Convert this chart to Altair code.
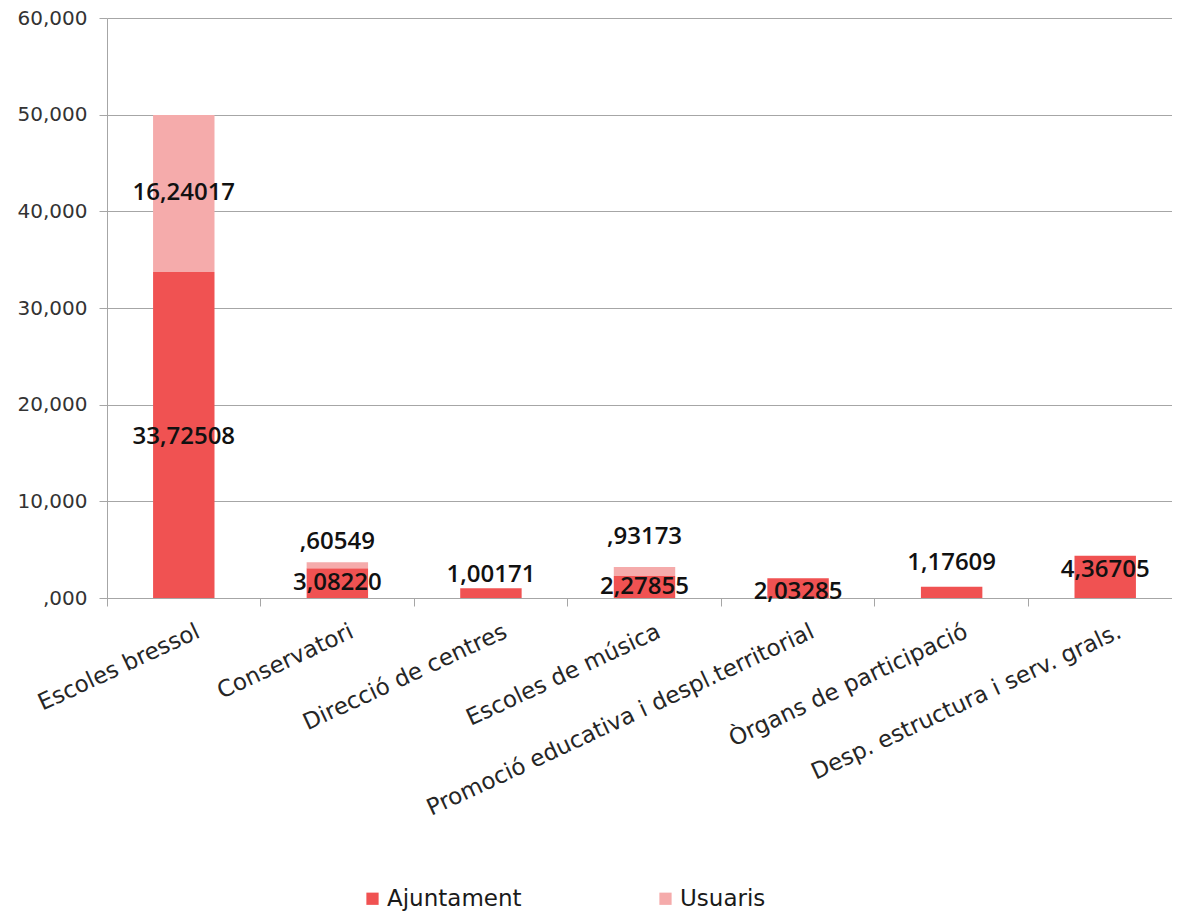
import altair as alt
import pandas as pd

categories = [
    "Escoles bressol",
    "Conservatori",
    "Direcció de centres",
    "Escoles de música",
    "Promoció educativa i despl.territorial",
    "Òrgans de participació",
    "Desp. estructura i serv. grals.",
]
series = ["Ajuntament", "Usuaris"]
ajuntament = [33725.08, 3082.20, 1001.71, 2278.55, 2032.85, 1176.09, 4367.05]
usuaris = [16240.17, 605.49, None, 931.73, None, None, None]
y_ticks = [0, 10000, 20000, 30000, 40000, 50000, 60000]

# pixel nudges of the data labels (style, mimicking the original label placement)
label_dy_ajuntament = [2, 0, -18, 0, 4, -29, -7]
label_dy_usuaris = [0, -23, 0, -34, 0, 0, 0]

colors = ["#F05252", "#F5ABAB"]


def fmt_label(v):
    s = str(int(round(v * 100)))
    return s[:-5] + "," + s[-5:]


rows = []
for i, c in enumerate(categories):
    rows.append({"category": c, "series": "Ajuntament", "value": ajuntament[i],
                 "order": 0, "dy": label_dy_ajuntament[i], "label": fmt_label(ajuntament[i])})
    if usuaris[i] is not None:
        rows.append({"category": c, "series": "Usuaris", "value": usuaris[i],
                     "order": 1, "dy": label_dy_usuaris[i], "label": fmt_label(usuaris[i])})
df = pd.DataFrame(rows)

W, H = 1075, 580
YMAX = 60000

x_enc = alt.X(
    "category:N",
    sort=categories,
    title=None,
    scale=alt.Scale(paddingInner=0, paddingOuter=0),
    axis=alt.Axis(
        bandPosition=0,
        labelOffset=10,
        labelAngle=-25,
        labelAlign="right",
        labelBaseline="top",
        labelFont="DejaVu Sans",
        labelFontSize=23,
        labelColor="#262626",
        labelPadding=14,
        labelLimit=700,
        domainColor="#A6A6A6",
        tickColor="#A6A6A6",
        tickSize=8,
        grid=False,
    ),
)

y_enc = alt.Y(
    "value:Q",
    stack="zero",
    title=None,
    scale=alt.Scale(domain=[0, YMAX], nice=False),
    axis=alt.Axis(
        values=y_ticks,
        labelExpr="datum.value == 0 ? ',000' : format(datum.value, ',')",
        labelFont="DejaVu Sans",
        labelFontSize=20,
        labelColor="#333333",
        labelPadding=12,
        domainColor="#A6A6A6",
        tickColor="#A6A6A6",
        tickSize=8,
        gridColor="#A6A6A6",
        gridWidth=1,
    ),
)

base = alt.Chart(df)

bars = base.mark_bar(width=alt.RelativeBandSize(0.4)).encode(
    x=x_enc,
    y=y_enc,
    color=alt.Color(
        "series:N",
        scale=alt.Scale(domain=series, range=colors),
        legend=alt.Legend(
            title=None,
            orient="none",
            legendX=254,
            legendY=869,
            direction="horizontal",
            symbolType="square",
            symbolSize=150,
            symbolStrokeWidth=0,
            labelFont="DejaVu Sans",
            labelFontSize=23,
            labelColor="#1a1a1a",
            labelOffset=3,
            columnPadding=132,
        ),
    ),
    order=alt.Order("order:Q"),
)

labels = (
    base.transform_stack(
        stack="value",
        groupby=["category"],
        as_=["v0", "v1"],
        sort=[alt.SortField("order", order="ascending")],
    )
    .transform_calculate(ypos=f"(datum.v0 + datum.v1) / 2 - datum.dy * {YMAX} / {H}")
    .mark_text(font="Open Sans", fontWeight=600, fontSize=24, baseline="middle", color="#111111")
    .encode(
        x=alt.X("category:N", sort=categories),
        y=alt.Y("ypos:Q"),
        text="label:N",
    )
)

chart = (
    alt.layer(bars, labels)
    .properties(
        width=W,
        height=H,
        autosize=alt.AutoSizeParams(type="none"),
        padding={"left": 99, "top": 10, "right": -10, "bottom": 314},
    )
    .configure_view(strokeWidth=0)
)

chart.save("out.html", embed_options={"renderer": "svg", "actions": False})
